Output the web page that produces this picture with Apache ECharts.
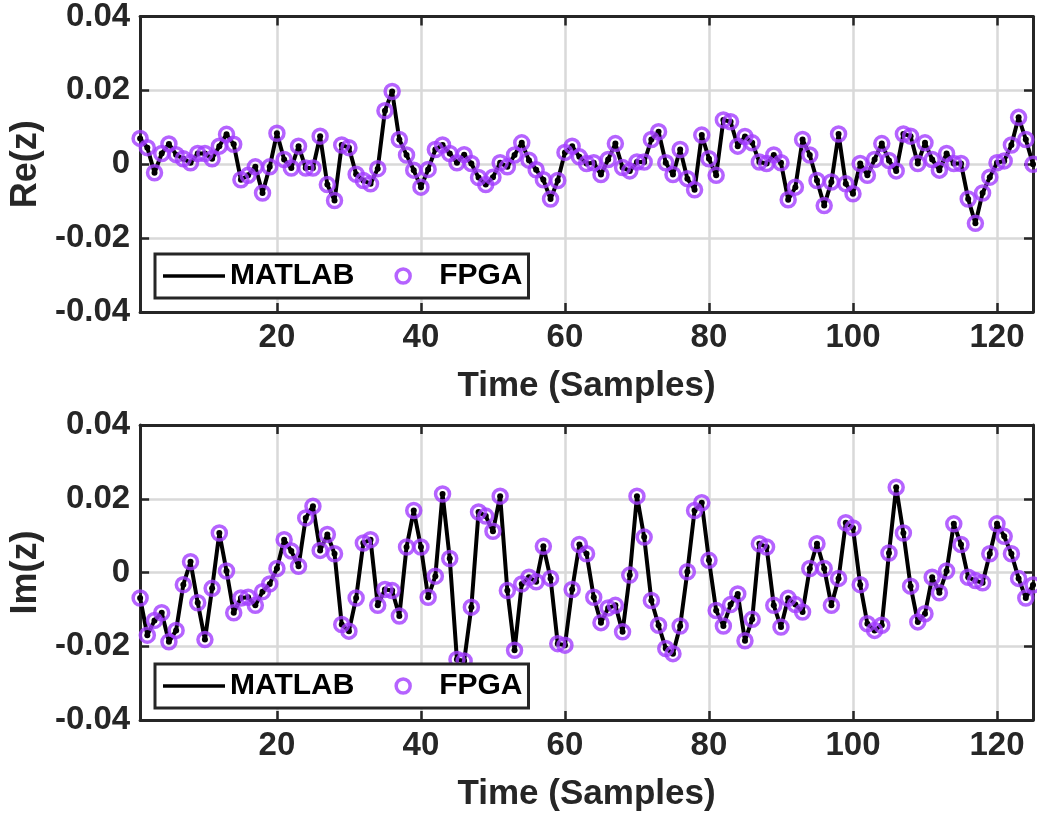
<!DOCTYPE html>
<html>
<head>
<meta charset="utf-8">
<script src="https://cdn.jsdelivr.net/npm/echarts@6/dist/echarts.min.js"></script>
<style>
  html, body { margin: 0; padding: 0; background: #fff; }
  #chart { width: 1037px; height: 817px; }
</style>
</head>
<body>
<div id="chart"></div>
<script>
// real part, samples 1..125
var reZ = [
  0.007, 0.0045, -0.0023, 0.0029, 0.0055, 0.0026, 0.0015, 0.0004, 0.0029, 0.0029,
  0.0015, 0.0049, 0.0081, 0.0054, -0.0042, -0.003, -0.0007, -0.0078, -0.0007, 0.0084,
  0.0013, -0.001, 0.0049, -0.001, -0.001, 0.0076, -0.0055, -0.0098, 0.0052, 0.0045,
  -0.0027, -0.0044, -0.0053, -0.0012, 0.0145, 0.0197, 0.0067, 0.0025, -0.0016, -0.0062,
  -0.0014, 0.004, 0.0052, 0.0029, 0.0004, 0.0026, 0.0002, -0.0036, -0.0055, -0.0035,
  0.0004, -0.0007, 0.0025, 0.0058, 0.0011, -0.0015, -0.0042, -0.0094, -0.0044, 0.0032,
  0.0049, 0.002, 0.0002, 0.0004, -0.0028, 0.0013, 0.0056, -0.0009, -0.0018, 0.0006,
  0.0006, 0.0067, 0.0088, 0.0004, -0.0028, 0.004, -0.0039, -0.0069, 0.0079, 0.0015,
  -0.003, 0.012, 0.0115, 0.0049, 0.0075, 0.0058, 0.0006, 0.0002, 0.0025, 0.0004,
  -0.0096, -0.0062, 0.0067, 0.0025, -0.0044, -0.0112, -0.0048, 0.0082, -0.0053, -0.008,
  0.0002, -0.003, 0.0013, 0.0056, 0.001, -0.0018, 0.0082, 0.0076, 0.0002, 0.0058,
  0.0013, -0.0016, 0.0029, 0.0002, 0.0002, -0.0094, -0.016, -0.0078, -0.0035, 0.0004,
  0.0009, 0.0052, 0.0127, 0.0067, 0.0
]
// imaginary part
var imZ = [
  -0.0069, -0.017, -0.013, -0.0109, -0.0188, -0.0157, -0.0033, 0.0029, -0.0082, -0.0182,
  -0.0043, 0.0107, 0.0004, -0.0109, -0.0069, -0.0067, -0.0089, -0.0052, -0.0031, 0.0011,
  0.0089, 0.0058, 0.0017, 0.0148, 0.018, 0.006, 0.0103, 0.0051, -0.0141, -0.0159,
  -0.0069, 0.008, 0.0089, -0.0089, -0.0046, -0.0049, -0.0118, 0.0069, 0.0168, 0.0069,
  -0.0067, -0.001, 0.0213, 0.0038, -0.0236, -0.024, -0.0094, 0.0164, 0.0153, 0.0112,
  0.0207, -0.0049, -0.0211, -0.0031, -0.0013, -0.0025, 0.0071, -0.0016, -0.0193, -0.0197,
  -0.0046, 0.0076, 0.0051, -0.0067, -0.0136, -0.0096, -0.0089, -0.0161, -0.0007, 0.0207,
  0.0096, -0.0076, -0.0143, -0.0206, -0.022, -0.0145, 0.0002, 0.0168, 0.0189, 0.0033,
  -0.0103, -0.0145, -0.0087, -0.0058, -0.0185, -0.0127, 0.0078, 0.0069, -0.0089, -0.0148,
  -0.007, -0.0087, -0.0107, 0.0011, 0.0078, 0.0011, -0.0089, -0.0016, 0.0135, 0.0121,
  -0.0033, -0.0139, -0.0157, -0.0143, 0.0053, 0.0231, 0.0107, -0.0037, -0.0134, -0.0112,
  -0.0013, -0.0055, 0.0004, 0.0132, 0.0076, -0.0013, -0.0022, -0.0028, 0.0051, 0.0132,
  0.0098, 0.0051, -0.0016, -0.0069, -0.0034
]
var xTicks = [20, 40, 60, 80, 100, 120]
var yNames = ['Re(z)', 'Im(z)']
var xName = 'Time (Samples)'

var purple = '#a33cff'
var font = 'Liberation Sans'
var ink = '#262626'

var toPairs = function(arr) {
  var out = []
  for (var i = 0; i < arr.length; i++) {
    out.push([i + 1, arr[i]])
  }
  return out
}

var axisLineStyle = { show: true, onZero: false, lineStyle: { color: ink, width: 3 } }
var tickStyle = { show: true, inside: true, length: 9, lineStyle: { color: ink, width: 2.5 } }
var gridLine = { show: true, lineStyle: { color: '#d9d9d9', width: 2.5 } }

var grids = [
  { left: 139, top: 15, width: 894, height: 297 },
  { left: 139, top: 425, width: 894, height: 295 }
]

var xAxes = []
var yAxes = []
var series = []
var legends = []
var datas = [reZ, imZ]
var legendTops = [254, 664]

for (var g = 0; g < 2; g++) {
  xAxes.push({
    type: 'value', gridIndex: g, min: 1, max: 125,
    name: xName, nameLocation: 'middle', nameGap: 57,
    nameTextStyle: { fontFamily: font, fontWeight: 'bold', fontSize: 35, color: ink },
    axisLine: axisLineStyle,
    axisTick: { show: true, inside: true, length: 9, lineStyle: { color: ink, width: 2.5 }, customValues: xTicks },
    axisLabel: { fontFamily: font, fontWeight: 'bold', fontSize: 33, color: ink, margin: 9, customValues: xTicks },
    splitLine: gridLine
  })
  xAxes.push({
    type: 'value', gridIndex: g, min: 1, max: 125, position: 'top',
    axisLine: axisLineStyle,
    axisTick: { show: true, inside: true, length: 9, lineStyle: { color: ink, width: 2.5 }, customValues: xTicks },
    axisLabel: { show: false },
    splitLine: { show: false }
  })
  yAxes.push({
    type: 'value', gridIndex: g, min: -0.04, max: 0.04, interval: 0.02,
    name: yNames[g], nameLocation: 'middle', nameGap: 95,
    nameTextStyle: { fontFamily: font, fontWeight: 'bold', fontSize: 36, color: ink },
    axisLine: axisLineStyle,
    axisTick: tickStyle,
    axisLabel: { fontFamily: font, fontWeight: 'bold', fontSize: 33, color: ink, margin: 10 },
    splitLine: gridLine
  })
  yAxes.push({
    type: 'value', gridIndex: g, min: -0.04, max: 0.04, interval: 0.02, position: 'right',
    axisLine: axisLineStyle,
    axisTick: tickStyle,
    axisLabel: { show: false },
    splitLine: { show: false }
  })
  series.push({
    name: 'MATLAB', type: 'line', xAxisIndex: g * 2, yAxisIndex: g * 2,
    data: toPairs(datas[g]),
    symbol: 'circle', symbolSize: 6, showSymbol: true,
    lineStyle: { color: '#000', width: 4 },
    itemStyle: { color: '#000' },
    z: 2, animation: false
  })
  series.push({
    name: 'FPGA', type: 'scatter', xAxisIndex: g * 2, yAxisIndex: g * 2,
    data: toPairs(datas[g]),
    symbol: 'circle', symbolSize: 14,
    itemStyle: { color: 'rgba(0,0,0,0)', borderColor: purple, borderWidth: 3.5 },
    z: 3, animation: false
  })
  legends.push({
    left: 155, top: legendTops[g],
    orient: 'horizontal',
    backgroundColor: '#fff', borderColor: ink, borderWidth: 3,
    padding: [7, 6, 7, 8],
    itemWidth: 62, itemHeight: 14, itemGap: 40,
    selectedMode: false,
    textStyle: { fontFamily: font, fontWeight: 'bold', fontSize: 30, color: '#000' },
    data: [
      { name: 'MATLAB', icon: 'path://M0,0 L62,0 L62,3.5 L0,3.5 Z', itemStyle: { color: '#000', borderWidth: 0 } },
      { name: 'FPGA', icon: 'circle', itemStyle: { color: 'rgba(0,0,0,0)', borderColor: purple, borderWidth: 3.5 } }
    ]
  })
}

var myChart = echarts.init(document.querySelector('#chart'))
var option = {
  backgroundColor: '#fff',
  animation: false,
  grid: grids,
  xAxis: xAxes,
  yAxis: yAxes,
  legend: legends,
  series: series
}
myChart.setOption(option)
</script>
</body>
</html>
